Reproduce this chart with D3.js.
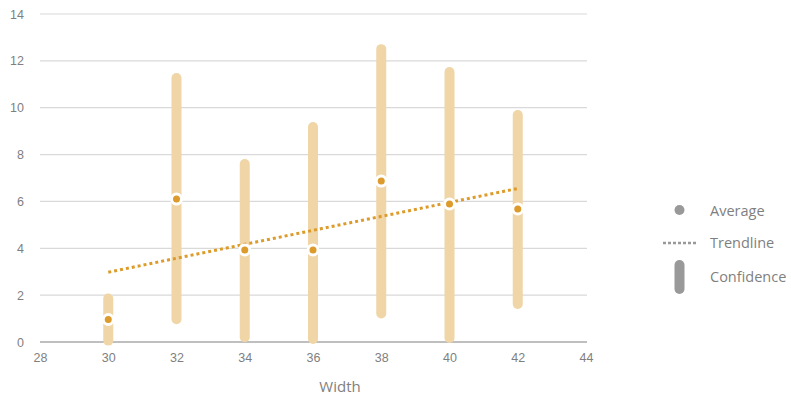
<!DOCTYPE html>
<html>
<head>
<meta charset="utf-8">
<script src="https://cdn.jsdelivr.net/npm/d3@7/dist/d3.min.js"></script>
<style>
  html, body { margin: 0; padding: 0; background: #fff; }
  svg { display: block; font-family: "Open Sans", "Noto Sans", sans-serif; }
</style>
</head>
<body>
<svg id="chart" width="791" height="399"></svg>
<script>
// Measurements per width
const widths   = [30, 32, 34, 36, 38, 40, 42];
const averages = [0.96, 6.1, 3.93, 3.93, 6.87, 5.89, 5.68];
const confLow  = [0.06, 0.97, 0.2, 0.13, 1.22, 0.17, 1.62];
const confHigh = [1.86, 11.27, 7.6, 9.18, 12.5, 11.52, 9.69];
const xTicks = [28, 30, 32, 34, 36, 38, 40, 42, 44];
const yTicks = [0, 2, 4, 6, 8, 10, 12, 14];
const legendItems = ["Average", "Trendline", "Confidence"];

const svg = d3.select("#chart");
const margin = { left: 40, right: 205, top: 14, bottom: 57 };
const W = 791, H = 399;

const x = d3.scaleLinear().domain([28, 44]).range([margin.left, W - margin.right]);
const y = d3.scaleLinear().domain([0, 14]).range([H - margin.bottom, margin.top]);

const barColor = "#f0d5a6";
const dotColor = "#dd9b2b";
const textColor = "#7f7f7f";

// Horizontal gridlines
svg.append("g")
  .selectAll("line")
  .data(yTicks.filter(d => d > 0))
  .join("line")
  .attr("x1", x(28)).attr("x2", x(44) + 1)
  .attr("y1", d => y(d)).attr("y2", d => y(d))
  .attr("stroke", "#d9d9d9").attr("stroke-width", 1.2);

// Y axis labels
const yAxis = d3.axisLeft(y).tickValues(yTicks).tickSize(0).tickPadding(16);
const gy = svg.append("g").attr("transform", `translate(${margin.left},0)`).call(yAxis);
gy.select(".domain").remove();
gy.selectAll("text").attr("fill", textColor).style("font-size", "12.5px");

// X axis
const xAxis = d3.axisBottom(x).tickValues(xTicks).tickSize(0).tickPadding(11);
const gx = svg.append("g").attr("transform", `translate(0,${y(0)})`).call(xAxis);
gx.select(".domain").attr("stroke", "#bfbfbf").attr("stroke-width", 2)
  .attr("d", `M${x(28)},0H${x(44) + 1}`);
gx.selectAll("text").attr("fill", textColor).style("font-size", "12.5px");

svg.append("text")
  .attr("x", 340).attr("y", 392)
  .attr("text-anchor", "middle")
  .attr("fill", textColor)
  .style("font-size", "15px")
  .text("Width");

const data = widths.map((w, i) => ({ w, avg: averages[i], lo: confLow[i], hi: confHigh[i] }));

// Confidence ranges
svg.append("g")
  .selectAll("line")
  .data(data)
  .join("line")
  .attr("x1", d => x(d.w)).attr("x2", d => x(d.w))
  .attr("y1", d => y(d.lo)).attr("y2", d => y(d.hi))
  .attr("stroke", barColor).attr("stroke-width", 10)
  .attr("stroke-linecap", "round");

// Least-squares trendline through the averages
const mx = d3.mean(widths), my = d3.mean(averages);
const slope = d3.sum(widths, (w, i) => (w - mx) * (averages[i] - my)) /
              d3.sum(widths, w => (w - mx) ** 2);
const trend = w => my + slope * (w - mx);
const x0 = d3.min(widths), x1 = d3.max(widths);
svg.append("line")
  .attr("x1", x(x0)).attr("y1", y(trend(x0)))
  .attr("x2", x(x1)).attr("y2", y(trend(x1)))
  .attr("stroke", dotColor).attr("stroke-width", 3)
  .attr("stroke-dasharray", "3,3");

// Average markers
const pts = svg.append("g").selectAll("g").data(data).join("g")
  .attr("transform", d => `translate(${x(d.w)},${y(d.avg)})`);
pts.append("circle").attr("r", 6.5).attr("fill", "#fff");
pts.append("circle").attr("r", 3.5).attr("fill", dotColor);

// Legend
const lg = svg.append("g");
const legendGray = "#999999";
const lx = 710;
const ly = [211, 243, 277];
lg.append("circle").attr("cx", 679.5).attr("cy", ly[0] - 1).attr("r", 5).attr("fill", legendGray);
lg.append("line").attr("x1", 663).attr("x2", 696).attr("y1", ly[1]).attr("y2", ly[1])
  .attr("stroke", legendGray).attr("stroke-width", 2.5).attr("stroke-dasharray", "3,2");
lg.append("rect").attr("x", 674.5).attr("y", 260).attr("width", 10).attr("height", 34)
  .attr("rx", 5).attr("fill", legendGray);
lg.selectAll("text").data(legendItems).join("text")
  .attr("x", lx).attr("y", (d, i) => ly[i] + 5)
  .attr("fill", textColor)
  .style("font-size", "14.5px")
  .text(d => d);
</script>
</body>
</html>
